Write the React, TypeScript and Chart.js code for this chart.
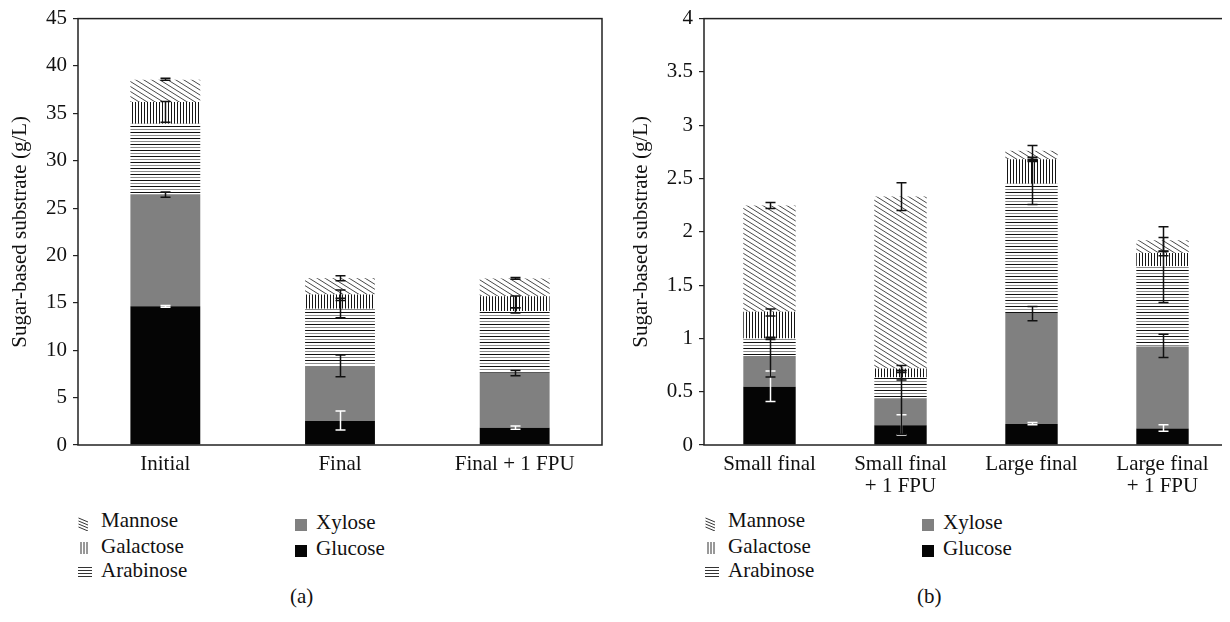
import React, { useEffect, useRef } from "react";
import { Chart, registerables } from "chart.js";
Chart.register(...registerables);

// ---------- data ----------
const seriesNames = ["Glucose", "Xylose", "Arabinose", "Galactose", "Mannose"];

const catsA = ["Initial", "Final", "Final + 1 FPU"];
const glucoseA = [14.65, 2.54, 1.81];
const xyloseA = [11.8, 5.81, 5.81];
const arabinoseA = [7.45, 6.02, 6.51];
const galactoseA = [2.3, 1.5, 1.57];
const mannoseA = [2.35, 1.73, 1.88];

const glucoseErrA = [[14.55, 14.72], [1.57, 3.58], [1.67, 2.0]];
const xyloseErrA = [[26.15, 26.7], [7.2, 9.5], [7.31, 7.87]];
const arabinoseErrA = [null, [13.43, 16.36], [13.92, 14.48]];
const galactoseErrA = [[34.05, 36.25], [15.25, 15.5], [14.48, 15.73]];
const mannoseErrA = [[38.5, 38.7], [17.33, 17.86], [17.5, 17.68]];

const catsB = [["Small final"], ["Small final", "+ 1 FPU"], ["Large final"], ["Large final", "+ 1 FPU"]];
const glucoseB = [0.547, 0.185, 0.198, 0.154];
const xyloseB = [0.287, 0.254, 1.041, 0.77];
const arabinoseB = [0.164, 0.194, 1.211, 0.753];
const galactoseB = [0.253, 0.084, 0.23, 0.123];
const mannoseB = [0.995, 1.613, 0.08, 0.12];

const glucoseErrB = [[0.408, 0.695], [0.093, 0.284], [0.19, 0.21], [0.13, 0.19]];
const xyloseErrB = [[0.639, 1.004], [0.1, 0.745], [1.165, 1.3], [0.82, 1.04]];
const arabinoseErrB = [[0.99, 1.01], [0.61, 0.7], [2.255, 2.7], [1.337, 1.816]];
const galactoseErrB = [[1.211, 1.276], [0.68, 0.7], [2.66, 2.68], [1.776, 1.946]];
const mannoseErrB = [[2.218, 2.276], [2.2, 2.46], [2.67, 2.81], [1.82, 2.048]];

const yMaxA = 45, yStepA = 5;
const yMaxB = 4, yStepB = 0.5;
const yTitle = "Sugar-based substrate (g/L)";

const FONT = "'Liberation Serif', 'Times New Roman', serif";
const FS = 21;

// ---------- patterns ----------
function makePattern(w: number, h: number, draw: (c: CanvasRenderingContext2D) => void) {
  const cv = document.createElement("canvas");
  cv.width = w; cv.height = h;
  const c = cv.getContext("2d")!;
  c.fillStyle = "#fff";
  c.fillRect(0, 0, w, h);
  draw(c);
  const probe = document.createElement("canvas").getContext("2d")!;
  return probe.createPattern(cv, "repeat")!;
}

function buildFills() {
  const mannose = makePattern(8, 5, (c) => {
    c.strokeStyle = "#333";
    c.lineWidth = 0.9;
    for (let k = -3; k <= 3; k++) {
      c.beginPath();
      c.moveTo(-8, -5 + k * 5);
      c.lineTo(16, 10 + k * 5);
      c.stroke();
    }
  });
  const galactose = makePattern(3, 3, (c) => {
    c.fillStyle = "#151515";
    c.fillRect(0, 0, 1, 3);
  });
  const arabinose = makePattern(3, 6, (c) => {
    c.fillStyle = "#111";
    c.fillRect(0, 0, 3, 1);
    c.fillStyle = "#8c8c8c";
    c.fillRect(0, 3, 3, 1);
  });
  return ["#050505", "#808080", arabinose, galactose, mannose];
}

function errorPlugin(errs: any[]) {
  return {
    id: "errbars",
    afterDatasetsDraw(chart: any) {
      const ctx = chart.ctx;
      const ys = chart.scales.y;
      ctx.save();
      ctx.lineWidth = 1.5;
      errs.forEach((arr: any[], di: number) => {
        const meta = chart.getDatasetMeta(di);
        arr.forEach((e: any, i: number) => {
          if (!e) return;
          const x = Math.round(meta.data[i].x) + 0.5;
          const y1 = ys.getPixelForValue(e[0]);
          const y2 = ys.getPixelForValue(e[1]);
          ctx.strokeStyle = di === 0 ? "#ffffff" : "#111111";
          ctx.beginPath();
          ctx.moveTo(x, y1); ctx.lineTo(x, y2);
          ctx.moveTo(x - 5, y1); ctx.lineTo(x + 5, y1);
          ctx.moveTo(x - 5, y2); ctx.lineTo(x + 5, y2);
          ctx.stroke();
        });
      });
      ctx.restore();
    },
  };
}

const framePlugin = {
  id: "frame",
  afterDraw(chart: any) {
    const { left, right, top, bottom } = chart.chartArea;
    const ctx = chart.ctx;
    ctx.save();
    ctx.strokeStyle = "#222";
    ctx.lineWidth = 1.5;
    ctx.strokeRect(left, top, right - left, bottom - top);
    ctx.restore();
  },
};

function StackChart(props: {
  cats: any[]; series: number[][]; errs: any[]; yMax: number; yStep: number; titlePad: number; left: number;
}) {
  const ref = useRef<HTMLCanvasElement>(null);
  useEffect(() => {
    const fills = buildFills();
    const chart = new Chart(ref.current!, {
      type: "bar",
      data: {
        labels: props.cats,
        datasets: props.series.map((d, i) => ({
          label: seriesNames[i],
          data: d,
          backgroundColor: fills[i] as any,
          borderWidth: 0,
          barPercentage: 0.4,
          categoryPercentage: 1,
        })),
      },
      options: {
        responsive: false,
        animation: false,
        layout: { padding: { top: 14, right: 2, left: 0, bottom: 0 } },
        plugins: { legend: { display: false }, tooltip: { enabled: false } },
        scales: {
          x: {
            stacked: true,
            grid: { display: false, drawTicks: false },
            border: { display: false },
            ticks: {
              color: "#111",
              font: { family: FONT, size: FS, lineHeight: 1.05 },
              padding: 8,
              maxRotation: 0,
              autoSkip: false,
            },
            afterFit: (s: any) => { s.height = 55; },
          },
          y: {
            stacked: true,
            min: 0,
            max: props.yMax,
            grid: { display: true, drawOnChartArea: false, drawTicks: true, tickLength: 5, color: "#222", lineWidth: 1.2 },
            border: { display: false },
            ticks: {
              stepSize: props.yStep,
              color: "#111",
              font: { family: FONT, size: FS },
              padding: 6,
              callback: (v: any) => String(Math.round(Number(v) * 100) / 100),
            },
            title: {
              display: true,
              text: yTitle,
              color: "#111",
              font: { family: FONT, size: FS },
              padding: { top: props.titlePad, bottom: 0 },
            },
            afterFit: (s: any) => { s.width = 78; },
          },
        },
      },
      plugins: [errorPlugin(props.errs), framePlugin],
    });
    return () => chart.destroy();
  }, []);
  return (
    <canvas
      ref={ref}
      width={604}
      height={500}
      style={{ position: "absolute", left: props.left, top: 0, display: "block" }}
    />
  );
}

const txt: React.CSSProperties = {
  position: "absolute",
  fontFamily: FONT,
  fontSize: FS,
  lineHeight: "20px",
  color: "#111",
  whiteSpace: "nowrap",
};

function Legend(props: { dx: number; tag: string }) {
  const dx = props.dx;
  const stroke = "#333";
  return (
    <>
      <svg style={{ position: "absolute", left: 78 + dx, top: 517 }} width={11} height={14}>
        {[0, 1, 2, 3].map((k) => (
          <line key={k} x1={0.5} y1={1 + k * 3} x2={10} y2={5 + k * 3} stroke={stroke} strokeWidth={1} />
        ))}
      </svg>
      <div style={{ ...txt, left: 101 + dx, top: 510 }}>Mannose</div>
      <svg style={{ position: "absolute", left: 80 + dx, top: 542 }} width={9} height={12}>
        {[0, 1, 2].map((k) => (
          <line key={k} x1={1 + k * 3} y1={0} x2={1 + k * 3} y2={12} stroke={stroke} strokeWidth={1} />
        ))}
      </svg>
      <div style={{ ...txt, left: 101 + dx, top: 536 }}>Galactose</div>
      <svg style={{ position: "absolute", left: 78 + dx, top: 566 }} width={14} height={12}>
        {[0, 1, 2, 3].map((k) => (
          <line key={k} x1={0} y1={1.5 + k * 3} x2={14} y2={1.5 + k * 3} stroke={stroke} strokeWidth={1} />
        ))}
      </svg>
      <div style={{ ...txt, left: 101 + dx, top: 560 }}>Arabinose</div>
      <div style={{ position: "absolute", left: 295 + dx, top: 519, width: 12, height: 12, background: "#808080" }} />
      <div style={{ ...txt, left: 316 + dx, top: 512 }}>Xylose</div>
      <div style={{ position: "absolute", left: 295 + dx, top: 545, width: 12, height: 12, background: "#050505" }} />
      <div style={{ ...txt, left: 316 + dx, top: 538 }}>Glucose</div>
      <div style={{ ...txt, left: 290 + dx, top: 586 }}>{props.tag}</div>
    </>
  );
}

export default function App() {
  return (
    <div style={{ position: "relative", width: 1230, height: 622, margin: -8, background: "#fff" }}>
      <StackChart
        cats={catsA}
        series={[glucoseA, xyloseA, arabinoseA, galactoseA, mannoseA]}
        errs={[glucoseErrA, xyloseErrA, arabinoseErrA, galactoseErrA, mannoseErrA]}
        yMax={yMaxA}
        yStep={yStepA}
        titlePad={8}
        left={0}
      />
      <StackChart
        cats={catsB}
        series={[glucoseB, xyloseB, arabinoseB, galactoseB, mannoseB]}
        errs={[glucoseErrB, xyloseErrB, arabinoseErrB, galactoseErrB, mannoseErrB]}
        yMax={yMaxB}
        yStep={yStepB}
        titlePad={3}
        left={626}
      />
      <Legend dx={0} tag="(a)" />
      <Legend dx={627} tag="(b)" />
    </div>
  );
}
